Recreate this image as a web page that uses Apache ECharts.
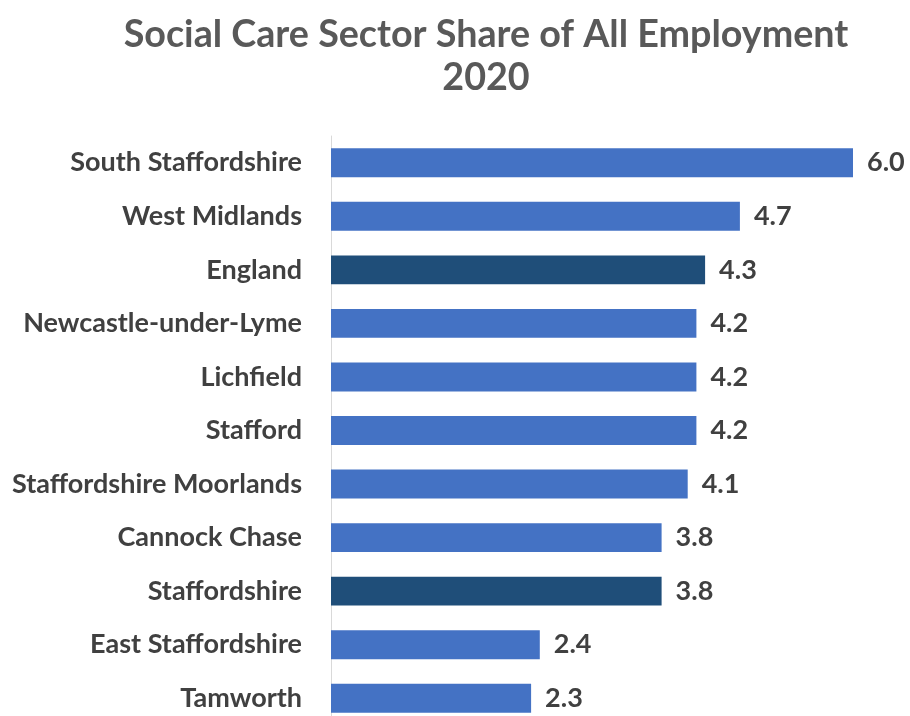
<!DOCTYPE html>
<html><head><meta charset="utf-8">
<script src="https://cdn.jsdelivr.net/npm/echarts@6/dist/echarts.min.js"></script>
<style>html,body{margin:0;padding:0;background:#fff}#c{width:910px;height:716px}</style>
</head><body><div id="c"></div>
<script>
const categories = ["South Staffordshire","West Midlands","England","Newcastle-under-Lyme","Lichfield","Stafford","Staffordshire Moorlands","Cannock Chase","Staffordshire","East Staffordshire","Tamworth"];
const values = [6.0,4.7,4.3,4.2,4.2,4.2,4.1,3.8,3.8,2.4,2.3];
const highlighted = ["England","Staffordshire"];
const titleLines = ["Social Care Sector Share of All Employment","2020"];

const chart = echarts.init(document.getElementById('c'));
const font = 'Lato, "Open Sans", sans-serif';
chart.setOption({
  animation:false,
  title:{text:titleLines.join('\n'),left:481,textAlign:'center',top:8,
    textStyle:{fontFamily:font,fontSize:37.7,fontWeight:'bold',color:'#595959',lineHeight:43}},
  grid:{left:331,top:136,width:565.5,height:589,containLabel:false,outerBoundsMode:'none'},
  xAxis:{type:'value',min:0,max:6.5,show:false},
  yAxis:{type:'category',inverse:true,data:categories,
    axisLine:{lineStyle:{color:'#d9d9d9',width:1}},axisTick:{show:false},
    axisLabel:{margin:29,fontFamily:font,fontSize:27,fontWeight:'bold',color:'#404040'}},
  series:[{type:'bar',barWidth:'54%',
    data:values.map((v,i)=>({value:v,itemStyle:{color:highlighted.includes(categories[i])?'#1F4E79':'#4472C4'}})),
    label:{show:true,position:'right',distance:14,formatter:p=>p.value.toFixed(1),
      fontFamily:font,fontSize:27,fontWeight:'bold',color:'#404040'}}]
});
</script></body></html>
